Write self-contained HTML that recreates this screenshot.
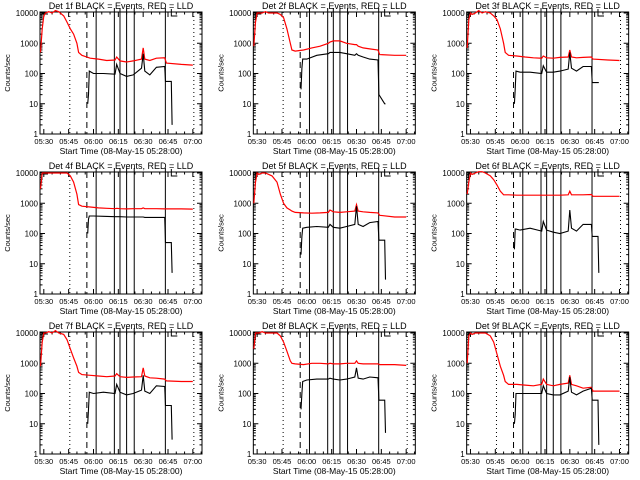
<!DOCTYPE html>
<html><head><meta charset="utf-8"><style>
html,body{margin:0;padding:0;background:#fff;width:640px;height:480px;overflow:hidden}
svg{display:block}
text{font-family:"Liberation Sans",sans-serif;fill:#000}
</style></head><body>
<svg id="c" width="640" height="480" viewBox="0 0 640 480"></svg>
<script>
const xTickLabels=["05:30","05:45","06:00","06:15","06:30","06:45","07:00"];
const xTickMinutes=[2,17,32,47,62,77,92];
const yTickLabels=["1","10","100","1000","10000"];
const yTickValues=[1,10,100,1000,10000];
const markerMinutesDotted=[17.7,92.6];
const markerMinutesDashed=[28];
const markerMinutesSolid=[33.6,44.6,48,52,56.6,75.4];
const redTimes=[0,1,2,3,5,7,9,11,14,16,18,20,22,23,25,30,35,40,45,46,48,52,56,61,62,63,66,70,75,76,85,92];
const blackTimes=[28.5,29,29.5,32,38,45,46,48,52,56,61,62,63,66,70,75,75.5,79,79.5];
const detLabels=["1f","2f","3f","4f","5f","6f","7f","8f","9f"];
const red1=[500,3000,8000,10000,11000,10000,12000,11000,8000,5000,3000,2000,1000,500,400,320,300,270,280,350,260,240,260,300,700,300,270,320,330,220,200,190];
const black1=[10,20,120,100,100,95,200,100,80,90,150,450,120,90,160,170,55,55,2];
const red2=[800,5000,10000,10000,10000,11000,10000,10000,10000,9000,7000,3000,1000,600,550,600,700,800,1000,1100,1200,1200,1000,900,900,800,700,650,600,420,400,400];
const black2=[30,150,300,300,400,450,500,500,500,450,400,450,400,350,300,280,20,10,10];
const red3=[700,6000,10000,9000,10000,12000,10000,11000,10000,8000,6000,3000,1000,500,400,380,350,330,320,380,330,320,340,350,600,350,330,340,350,300,280,270];
const black3=[10,30,120,110,110,100,180,110,110,120,140,500,150,120,170,170,50,50,50];
const red4=[3000,10000,10000,10000,10000,10000,10000,10000,10000,10000,8000,5000,2000,900,800,750,700,680,660,680,660,650,660,660,700,660,660,660,650,650,650,640];
const black4=[100,300,380,380,370,360,360,360,350,350,350,350,340,340,340,340,50,50,5];
const red5=[1000,5000,10000,9000,10000,10000,9000,8000,5000,2000,1000,700,600,550,500,480,470,480,500,600,520,500,520,550,900,550,520,500,480,400,350,350];
const black5=[20,80,150,160,170,160,200,160,150,170,200,800,200,170,230,250,60,60,3];
const red6=[2000,5000,10000,9000,10000,11000,11000,10000,8000,6000,4000,2500,1900,1900,1900,1850,1850,1850,1850,1850,1850,1850,1850,1900,2500,1900,1900,1900,1950,1700,1700,1700];
const black6=[30,140,140,130,150,120,250,130,110,100,120,600,150,120,200,200,80,80,5];
const red7=[800,5000,10000,10000,11000,10000,12000,10000,9000,6000,3000,1500,800,500,420,400,380,360,380,450,360,340,350,360,700,380,330,320,300,260,250,250];
const black7=[10,30,110,100,110,100,200,110,90,100,130,400,120,100,180,170,40,40,3];
const red8=[3000,10000,10000,10000,11000,10000,10000,10000,10000,8000,5000,2500,1200,1000,950,900,1000,1000,950,1000,950,950,1000,1000,1200,1000,950,950,950,900,900,850];
const black8=[30,100,250,280,300,300,320,300,280,300,350,700,320,300,350,330,60,60,5];
const red9=[1000,8000,10000,9000,10000,10000,10000,10000,8000,5000,2000,800,400,250,200,200,190,180,200,300,200,180,200,220,400,200,180,150,160,120,120,120];
const black9=[10,20,100,100,100,100,180,100,90,90,120,350,110,90,120,150,60,60,2];
const redSeries=[red1,red2,red3,red4,red5,red6,red7,red8,red9];
const blackSeries=[black1,black2,black3,black4,black5,black6,black7,black8,black9];

const NS="http://www.w3.org/2000/svg";
const svg=document.getElementById('c');
function mk(tag,attrs,parent){const e=document.createElementNS(NS,tag);for(const k in attrs)e.setAttribute(k,attrs[k]);(parent||svg).appendChild(e);return e;}

for(let p=0;p<9;p++){
  const ox=(p%3)*213.33, oy=Math.floor(p/3)*160;
  const L=ox+40,R=ox+202,T=oy+12,B=oy+134;
  const xs=t=>L+(t+0.3)*1.656;
  const ys=v=>B-Math.log10(Math.max(v,1))*30.25;
  const g=mk('g',{});
  
  
  const frame=mk('rect',{x:L,y:T,width:R-L,height:B-T,fill:'none',stroke:'#000','stroke-width':1},g);
  
  
  // y ticks
  for(let d=0;d<5;d++){
    const v=yTickValues[d];const y=ys(v);
    mk('line',{x1:L,x2:L+5,y1:y,y2:y,stroke:'#000'},g);
    mk('line',{x1:R,x2:R-5,y1:y,y2:y,stroke:'#000'},g);
    const tx=mk('text',{x:L-2,y:y+3,'font-size':8,'text-anchor':'end'},g);
    tx.textContent=yTickLabels[d];
    
    
    if(d<4)for(let m=2;m<10;m++){const ym=ys(v*m);
      mk('line',{x1:L,x2:L+2.5,y1:ym,y2:ym,stroke:'#000'},g);
      mk('line',{x1:R,x2:R-2.5,y1:ym,y2:ym,stroke:'#000'},g);}
  }
  // x ticks
  for(let i=0;i<xTickMinutes.length;i++){
    const x=xs(xTickMinutes[i]);
    mk('line',{x1:x,x2:x,y1:B,y2:B-5,stroke:'#000'},g);
    mk('line',{x1:x,x2:x,y1:T,y2:T+5,stroke:'#000'},g);
    const tx=mk('text',{x:x,y:B+10,'font-size':7.5,'text-anchor':'middle'},g);
    tx.textContent=xTickLabels[i];
    
    
    for(let m=5;m<15;m+=5){const xm=xs(xTickMinutes[i]+m);if(xm<R){
      mk('line',{x1:xm,x2:xm,y1:B,y2:B-2.5,stroke:'#000'},g);
      mk('line',{x1:xm,x2:xm,y1:T,y2:T+2.5,stroke:'#000'},g);}}
  }
  // marker lines
  markerMinutesDotted.forEach(t=>{const l=mk('line',{x1:xs(t),x2:xs(t),y1:T,y2:B,stroke:'#000','stroke-dasharray':'1 3'},g);
    });
  markerMinutesDashed.forEach(t=>{const l=mk('line',{x1:xs(t),x2:xs(t),y1:T,y2:B,stroke:'#000','stroke-dasharray':'6 4'},g);
    });
  markerMinutesSolid.forEach(t=>{const l=mk('line',{x1:xs(t),x2:xs(t),y1:T-4,y2:B,stroke:'#000'},g);
    });
  // small bracket marks
  mk('path',{d:`M${L+8} ${T+2}h-6v6`,fill:'none',stroke:'#000'},g);
  mk('path',{d:`M${xs(79)} ${T-3}v7h6`,fill:'none',stroke:'#000'},g);
  // series
  const rd=redSeries[p].map((v,i)=>(i?'L':'M')+xs(redTimes[i]).toFixed(1)+' '+ys(v).toFixed(1)).join('');
  const rp=mk('path',{d:rd,fill:'none',stroke:'#ff0000','stroke-width':1.2},g);
  
  const bd=blackSeries[p].map((v,i)=>(i?'L':'M')+xs(blackTimes[i]).toFixed(1)+' '+ys(v).toFixed(1)).join('');
  const bp=mk('path',{d:bd,fill:'none',stroke:'#000','stroke-width':1.1},g);
  
  // titles
  const ti=mk('text',{x:(L+R)/2,y:T-3,'font-size':9,'text-anchor':'middle'},g);
  ti.textContent='Det '+detLabels[p]+' BLACK = Events, RED = LLD';
  
  const xt=mk('text',{x:(L+R)/2,y:B+20,'font-size':8.5,'text-anchor':'middle'},g);
  xt.textContent='Start Time (08-May-15 05:28:00)';
  
  const yt=mk('text',{x:0,y:0,'font-size':7.5,'text-anchor':'middle',transform:`translate(${ox+10},${(T+B)/2}) rotate(-90)`},g);
  yt.textContent='Counts/sec';
  
}
</script>
</body></html>
